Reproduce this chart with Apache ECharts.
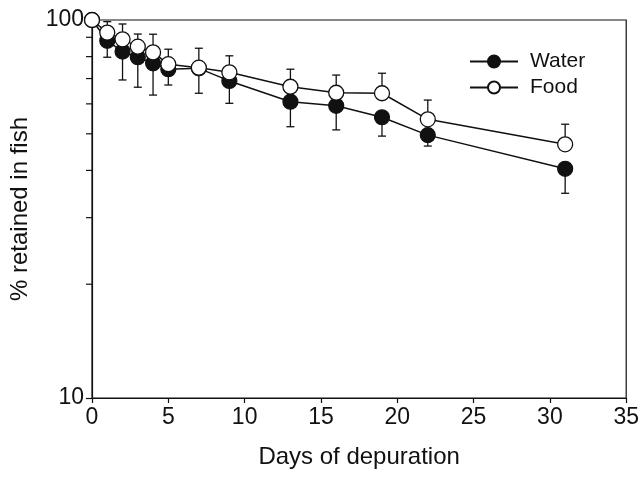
<!DOCTYPE html>
<html>
<head>
<meta charset="utf-8">
<script src="https://cdn.jsdelivr.net/npm/echarts@6/dist/echarts.min.js"></script>
<style>
  html, body { margin: 0; padding: 0; background: #fff; }
  #chart { width: 642px; height: 481px; }
</style>
</head>
<body>
<div id="chart"></div>
<script>
// ---- data ----
var days = [0, 1, 2, 3, 4, 5, 7, 9, 13, 16, 19, 22, 31];
var water = [100, 88.1, 82.5, 79.7, 76.8, 74.1, 74.5, 69.0, 60.8, 59.3, 55.3, 49.6, 40.4];
var food = [100, 92.6, 88.9, 85.0, 82.1, 76.4, 74.8, 72.7, 66.6, 64.2, 64.0, 54.6, 46.9];
// error bar ends (Food: upper whisker, Water: lower whisker); null = no bar
var foodUpper = [null, 99.0, 97.6, 91.8, 91.7, 83.7, 84.2, 80.4, 74.1, 71.5, 72.3, 61.4, 53.0];
var waterLower = [null, 79.7, 69.4, 66.4, 63.3, 67.3, 64.0, 60.2, 52.2, 51.2, 49.3, 46.4, 34.8];
var xTicks = [0, 5, 10, 15, 20, 25, 30, 35];
var yLabels = [10, 100];
var yMinorTicks = [20, 30, 40, 50, 60, 70, 80, 90];

var FONT = 'Liberation Sans';
var INK = '#111';

function pairs(xs, ys) { return xs.map(function (x, i) { return [x, ys[i]]; }); }
function barData(xs, base, ends) {
  var out = [];
  xs.forEach(function (x, i) { if (ends[i] != null) out.push([x, base[i], ends[i]]); });
  return out;
}
function errRender(params, api) {
  var x = api.value(0);
  var p0 = api.coord([x, api.value(1)]);
  var p1 = api.coord([x, api.value(2)]);
  var half = 4;
  return {
    type: 'group',
    children: [
      { type: 'line', shape: { x1: p0[0], y1: p0[1], x2: p1[0], y2: p1[1] }, style: { stroke: INK, lineWidth: 1.3 } },
      { type: 'line', shape: { x1: p1[0] - half, y1: p1[1], x2: p1[0] + half, y2: p1[1] }, style: { stroke: INK, lineWidth: 1.3 } }
    ]
  };
}

var chart = echarts.init(document.getElementById('chart'), null, { renderer: 'canvas' });
chart.setOption({
  animation: false,
  backgroundColor: '#fff',
  grid: { left: 89, right: 15, top: 20, bottom: 83, show: true, borderColor: INK, borderWidth: 1.2, backgroundColor: 'transparent' },
  legend: {
    left: 464, top: 46, orient: 'vertical', itemGap: 5, itemWidth: 48, itemHeight: 15,
    textStyle: { fontFamily: FONT, fontSize: 21, color: INK, padding: [0, 0, 0, 7] },
    data: ['Water', 'Food']
  },
  xAxis: {
    type: 'value', min: xTicks[0], max: xTicks[xTicks.length - 1], interval: 5,
    name: 'Days of depuration', nameLocation: 'middle', nameGap: 47,
    nameTextStyle: { fontFamily: FONT, fontSize: 24, color: INK },
    axisLine: { show: true, lineStyle: { color: INK, width: 1.2 } },
    axisTick: { show: true, inside: false, length: 5, lineStyle: { color: INK, width: 1.2 } },
    axisLabel: { fontFamily: FONT, fontSize: 23, color: INK, margin: 8 },
    splitLine: { show: false }
  },
  yAxis: {
    type: 'log', logBase: 10, min: yLabels[0], max: yLabels[1],
    name: '% retained in fish', nameLocation: 'middle', nameGap: 60,
    nameTextStyle: { fontFamily: FONT, fontSize: 24, color: INK },
    axisLine: { show: true, lineStyle: { color: INK, width: 1.2 } },
    axisTick: { show: true, inside: false, length: 6, lineStyle: { color: INK, width: 1.2 } },
    axisLabel: { fontFamily: FONT, fontSize: 23, color: INK, margin: 8 },
    splitLine: { show: false }
  },
  series: [
    {
      name: 'minorTicks', type: 'custom', silent: true, clip: false, z: 1,
      data: yMinorTicks.map(function (v) { return [0, v]; }),
      renderItem: function (params, api) {
        var p = api.coord([api.value(0), api.value(1)]);
        return { type: 'line', shape: { x1: p[0] - 6, y1: p[1], x2: p[0], y2: p[1] }, style: { stroke: INK, lineWidth: 1.2 } };
      },
      encode: { x: 0, y: 1 }
    },
    {
      name: 'foodErr', type: 'custom', silent: true, z: 2,
      data: barData(days, food, foodUpper), renderItem: errRender, encode: { x: 0, y: [1, 2] }
    },
    {
      name: 'waterErr', type: 'custom', silent: true, z: 2,
      data: barData(days, water, waterLower), renderItem: errRender, encode: { x: 0, y: [1, 2] }
    },
    {
      name: 'Water', type: 'line', z: 4, data: pairs(days, water),
      symbol: 'circle', symbolSize: 15, showSymbol: true,
      lineStyle: { color: INK, width: 1.5 },
      itemStyle: { color: INK, borderColor: INK, borderWidth: 1.2 }
    },
    {
      name: 'Food', type: 'line', z: 5, data: pairs(days, food),
      symbol: 'circle', symbolSize: 15, showSymbol: true,
      lineStyle: { color: INK, width: 1.5 },
      itemStyle: { color: '#fff', borderColor: INK, borderWidth: 1.3 }
    }
  ]
});
</script>
</body>
</html>
